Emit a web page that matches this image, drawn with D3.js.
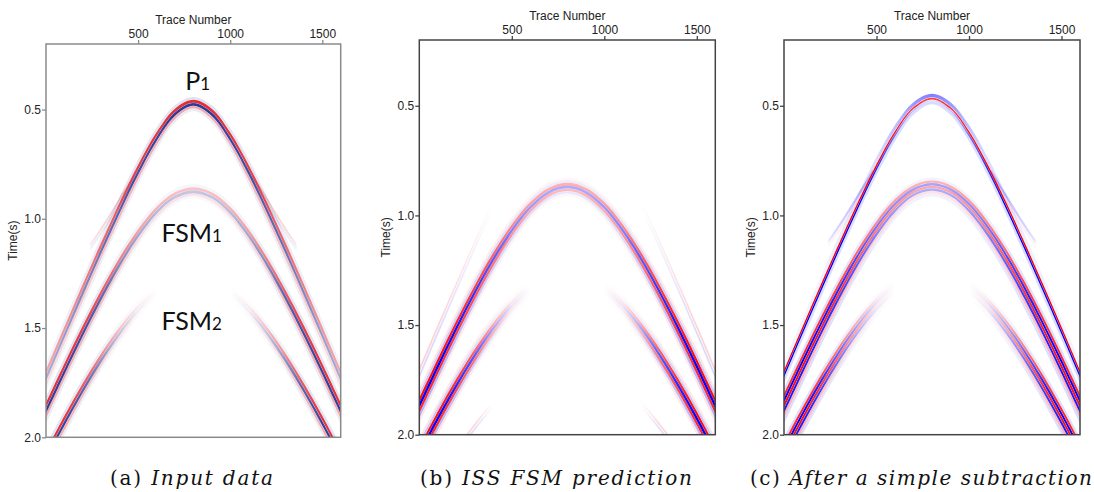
<!DOCTYPE html>
<html>
<head>
<meta charset="utf-8">
<script src="https://cdn.jsdelivr.net/npm/d3@7"></script>
<style>
  body { margin: 0; background: #fff; }
  svg { display: block; }
</style>
</head>
<body>
<svg id="fig" width="1094" height="492"></svg>
<script>
// ---- Picked traveltimes (s) of each event along the shot gather ----
const traces = [0, 100, 200, 300, 400, 500, 600, 700, 800, 900, 1000, 1100, 1200, 1300, 1400, 1500, 1600];
const timesP1   = [1.720, 1.522, 1.327, 1.136, 0.951, 0.778, 0.626, 0.514, 0.470, 0.514, 0.626, 0.778, 0.951, 1.136, 1.327, 1.522, 1.720];
const timesFSM1 = [1.869, 1.689, 1.515, 1.351, 1.200, 1.069, 0.963, 0.894, 0.870, 0.894, 0.963, 1.069, 1.200, 1.351, 1.515, 1.689, 1.869];
const timesFSM2 = [2.085, 1.926, 1.776, 1.638, 1.516, 1.413, 1.336, 1.287, 1.270, 1.287, 1.336, 1.413, 1.516, 1.638, 1.776, 1.926, 2.085];
const timesFSM3 = [2.351, 2.210, 2.080, 1.964, 1.864, 1.782, 1.721, 1.683, 1.670, 1.683, 1.721, 1.782, 1.864, 1.964, 2.080, 2.210, 2.351];
// weak flat event branching off the primary on both flanks
const ghostLeftTraces  = [240, 320, 400, 480];
const ghostLeftTimes   = [1.12, 1.02, 0.91, 0.80];
const ghostRightTraces = [1120, 1200, 1280, 1360];
const ghostRightTimes  = [0.80, 0.91, 1.02, 1.12];

// amplitude envelopes are sampled at these distances (in traces) from the apex trace
const apexTrace = 800;
const envOffsets = [0, 100, 200, 300, 400, 500, 600, 700, 800];

// axes
const traceDomain = [0, 1600];
const timeDomain = [0.2, 2.0];
const xTicks = [500, 1000, 1500];
const yTicks = [0.5, 1.0, 1.5, 2.0];
const xTitle = "Trace Number";
const yTitle = "Time(s)";

// ---- wavelet lobes at the apex: time shift (s), signed amplitude, thickness (s) ----
const lobesInput = [
  { dt: -0.022, a: -0.15, h: 0.012 },
  { dt: -0.008, a:  0.95, h: 0.013 },
  { dt:  0.006, a: -1.00, h: 0.013 },
  { dt:  0.019, a:  0.40, h: 0.011 },
  { dt:  0.031, a: -0.10, h: 0.012 }
];
const lobesPred = [
  { dt: -0.036, a:  0.10, h: 0.012 },
  { dt: -0.025, a: -0.22, h: 0.010 },
  { dt: -0.013, a:  0.95, h: 0.012 },
  { dt:  0.000, a: -1.00, h: 0.013 },
  { dt:  0.013, a:  0.85, h: 0.012 },
  { dt:  0.025, a: -0.30, h: 0.011 },
  { dt:  0.037, a:  0.10, h: 0.012 }
];
const lobesLeak = [
  { dt: -0.007, a:  0.60, h: 0.010 },
  { dt:  0.007, a: -0.50, h: 0.010 }
];
const lobesResP1 = [
  { dt: -0.017, a: -0.50, h: 0.016, env: [1, 0.8, 0.5, 0.3, 0.2, 0.15, 0.12, 0.1, 0.1] },
  { dt: -0.003, a:  1.00, h: 0.008, env: [0.75, 0.8, 0.9, 1, 1, 1, 1, 1, 1] },
  { dt:  0.006, a: -1.00, h: 0.008, env: [0.1, 0.25, 0.55, 0.85, 1, 1, 1, 1, 1] },
  { dt:  0.017, a: -0.14, h: 0.012 }
];
const lobesResFSM = [
  { dt: -0.036, a: -0.14, h: 0.012 },
  { dt: -0.024, a:  0.85, h: 0.011 },
  { dt: -0.012, a: -1.00, h: 0.011 },
  { dt:  0.000, a:  0.95, h: 0.011 },
  { dt:  0.012, a: -0.90, h: 0.011 },
  { dt:  0.024, a:  0.30, h: 0.012 },
  { dt:  0.037, a: -0.14, h: 0.013 }
];
const lobesGhost = [
  { dt:  0.000, a:  0.25, h: 0.010 },
  { dt:  0.012, a: -0.15, h: 0.010 }
];
const lobesGhostRes = [
  { dt:  0.000, a: -0.25, h: 0.012 },
  { dt:  0.014, a:  0.08, h: 0.010 }
];

// ---- amplitude envelopes vs. offset ----
const envA_P1    = [1, 1, 0.95, 0.9, 0.8, 0.7, 0.6, 0.5, 0.42];
const envA_FSM1  = [0.28, 0.3, 0.35, 0.45, 0.6, 0.78, 0.9, 0.95, 1];
const envA_FSM2  = [0, 0, 0, 0.08, 0.3, 0.55, 0.8, 0.95, 1];
const envGhost   = [0, 0, 0, 0.8, 1, 0.7, 0.2, 0, 0];
const envB_FSM1  = [0.32, 0.34, 0.4, 0.5, 0.65, 0.8, 0.92, 1, 1];
const envB_FSM2  = [0, 0, 0, 0.1, 0.35, 0.65, 0.85, 1, 1];
const envB_FSM3  = [0, 0, 0, 0, 0, 0.25, 0.3, 0.3, 0.3];
const envB_leak  = [0, 0, 0, 0, 0, 0.1, 0.2, 0.28, 0.3];
const envC_P1    = [1, 1, 1, 1, 1, 1, 1, 1, 1];
const envC_FSM1  = [0.35, 0.38, 0.45, 0.55, 0.7, 0.85, 0.95, 1, 1];
const envC_FSM2  = [0, 0, 0, 0.1, 0.35, 0.6, 0.85, 1, 1];

const panels = [
  {
    key: "a", left: 46, right: 340.7, top: 44, bottom: 437.3,
    frame: "#8a8a8a", red: "#e3212b", blue: "#2b3a9c", blur: 0.6,
    caption: ["(a) ", "Input data"], captionX: 191.5, captionW: 163,
    events: [
      { tr: ghostLeftTraces,  t: ghostLeftTimes,  env: envGhost, lobes: lobesGhost },
      { tr: ghostRightTraces, t: ghostRightTimes, env: envGhost, lobes: lobesGhost },
      { tr: traces, t: timesP1,   env: envA_P1,   lobes: lobesInput },
      { tr: traces, t: timesFSM1, env: envA_FSM1, lobes: lobesInput },
      { tr: traces, t: timesFSM2, env: envA_FSM2, lobes: lobesInput }
    ],
    labels: [
      { main: "P",   sub: "1", trace: 823, time: 0.41 },
      { main: "FSM", sub: "1", trace: 791, time: 1.106 },
      { main: "FSM", sub: "2", trace: 791, time: 1.509 }
    ]
  },
  {
    key: "b", left: 419.3, right: 715.3, top: 40, bottom: 434.7,
    frame: "#444", red: "#ff0000", blue: "#0000ff", blur: 0,
    caption: ["(b) ", "ISS FSM prediction"], captionX: 556, captionW: 272,
    events: [
      { tr: traces, t: timesP1,   env: envB_leak, lobes: lobesLeak },
      { tr: traces, t: timesFSM1, env: envB_FSM1, lobes: lobesPred },
      { tr: traces, t: timesFSM2, env: envB_FSM2, lobes: lobesPred },
      { tr: traces, t: timesFSM3, env: envB_FSM3, lobes: lobesLeak }
    ],
    labels: []
  },
  {
    key: "c", left: 784, right: 1080, top: 40, bottom: 434.7,
    frame: "#444", red: "#ff0000", blue: "#0000ff", blur: 0,
    caption: ["(c) ", "After a simple subtraction"], captionX: 921, captionW: 342,
    events: [
      { tr: ghostLeftTraces,  t: ghostLeftTimes,  env: envGhost, lobes: lobesGhostRes },
      { tr: ghostRightTraces, t: ghostRightTimes, env: envGhost, lobes: lobesGhostRes },
      { tr: traces, t: timesP1,   env: envC_P1,   lobes: lobesResP1 },
      { tr: traces, t: timesFSM1, env: envC_FSM1, lobes: lobesResFSM },
      { tr: traces, t: timesFSM2, env: envC_FSM2, lobes: lobesResFSM }
    ],
    labels: []
  }
];

const svg = d3.select("#fig");
const defs = svg.append("defs");
let gradCount = 0;
const axisFont = "'Liberation Sans', Arial, sans-serif";
const stretchGain = 0.75;   // how strongly lobes widen in time on the steep flanks

function envelopeStops(env, amp) {
  const stops = [];
  envOffsets.forEach((o, i) => stops.push({ tr: apexTrace - o, v: env[i] }));
  envOffsets.forEach((o, i) => { if (o > 0) stops.push({ tr: apexTrace + o, v: env[i] }); });
  stops.sort((p, q) => p.tr - q.tr);
  return stops.map(s => ({ offset: (s.tr - traceDomain[0]) / (traceDomain[1] - traceDomain[0]),
                           opacity: Math.min(1, Math.abs(amp) * s.v) }));
}

panels.forEach(p => {
  const x = d3.scaleLinear().domain(traceDomain).range([p.left, p.right]);
  const y = d3.scaleLinear().domain(timeDomain).range([p.top, p.bottom]);
  const g = svg.append("g").attr("class", "panel-" + p.key);

  const clipId = "clip-" + p.key;
  defs.append("clipPath").attr("id", clipId)
    .append("rect")
    .attr("x", p.left).attr("y", p.top)
    .attr("width", p.right - p.left).attr("height", p.bottom - p.top);

  const marks = g.append("g").attr("clip-path", `url(#${clipId})`).append("g");
  if (p.blur > 0) {
    const fid = "soft-" + p.key;
    defs.append("filter").attr("id", fid)
      .attr("x", "-5%").attr("y", "-5%").attr("width", "110%").attr("height", "110%")
      .append("feGaussianBlur").attr("stdDeviation", p.blur);
    marks.attr("filter", `url(#${fid})`);
  }

  // each event is painted as a stack of wavelet lobes following its traveltime curve;
  // on the steep flanks the lobes widen in time so they keep some thickness normal to the curve
  p.events.forEach(ev => {
    const n = ev.tr.length;
    const pts = ev.tr.map((tr, i) => {
      const j = Math.max(0, i - 1), k = Math.min(n - 1, i + 1);
      const slope = stretchGain * (y(ev.t[k]) - y(ev.t[j])) / (x(ev.tr[k]) - x(ev.tr[j]));
      return { tr, t: ev.t[i], s: Math.sqrt(1 + slope * slope) };
    });
    ev.lobes.forEach(lb => {
      const id = "amp" + (gradCount++);
      const grad = defs.append("linearGradient").attr("id", id)
        .attr("gradientUnits", "userSpaceOnUse")
        .attr("x1", x(traceDomain[0])).attr("x2", x(traceDomain[1]))
        .attr("y1", 0).attr("y2", 0);
      grad.selectAll("stop").data(envelopeStops(lb.env || ev.env, lb.a)).join("stop")
        .attr("offset", d => d.offset)
        .attr("stop-color", lb.a > 0 ? p.red : p.blue)
        .attr("stop-opacity", d => d.opacity);
      const area = d3.area()
        .x(d => x(d.tr))
        .y0(d => y(d.t + d.s * (lb.dt - lb.h / 2)))
        .y1(d => y(d.t + d.s * (lb.dt + lb.h / 2)))
        .curve(d3.curveCatmullRom);
      marks.append("path").datum(pts).attr("d", area).attr("fill", `url(#${id})`);
    });
  });

  // frame
  g.append("rect")
    .attr("x", p.left).attr("y", p.top)
    .attr("width", p.right - p.left).attr("height", p.bottom - p.top)
    .attr("fill", "none").attr("stroke", p.frame).attr("stroke-width", 1.5);

  // axes
  const xAxis = g.append("g").attr("transform", `translate(0,${p.top})`)
    .call(d3.axisTop(x).tickValues(xTicks).tickSize(4).tickPadding(2).tickFormat(d3.format("d")));
  const yAxis = g.append("g").attr("transform", `translate(${p.left},0)`)
    .call(d3.axisLeft(y).tickValues(yTicks).tickSize(4).tickPadding(1).tickFormat(d3.format(".1f")));
  [xAxis, yAxis].forEach(ax => {
    ax.select(".domain").remove();
    ax.selectAll(".tick line").attr("stroke", p.frame).attr("stroke-width", 1.3);
    ax.selectAll(".tick text").attr("font-family", axisFont).attr("font-size", 12).attr("fill", "#222");
  });

  g.append("text")
    .attr("x", (p.left + p.right) / 2).attr("y", p.top - 20)
    .attr("text-anchor", "middle")
    .attr("font-family", axisFont).attr("font-size", 12).attr("fill", "#222")
    .text(xTitle);
  g.append("text")
    .attr("transform", `translate(${p.left - 29},${(p.top + p.bottom) / 2}) rotate(-90)`)
    .attr("text-anchor", "middle")
    .attr("font-family", axisFont).attr("font-size", 12).attr("fill", "#222")
    .text(yTitle);

  // event annotations
  p.labels.forEach(l => {
    const t = g.append("text")
      .attr("x", x(l.trace)).attr("y", y(l.time))
      .attr("text-anchor", "middle")
      .attr("font-family", "Lato, 'Open Sans', sans-serif").attr("font-size", 25).attr("fill", "#111");
    t.append("tspan").text(l.main);
    t.append("tspan").attr("font-size", 17).text(l.sub);
  });

  // caption
  const cap = svg.append("text")
    .attr("x", p.captionX).attr("y", 485)
    .attr("text-anchor", "middle")
    .attr("font-family", "'DejaVu Serif', 'Liberation Serif', serif").attr("font-size", 20).attr("fill", "#111")
    .attr("textLength", p.captionW).attr("lengthAdjust", "spacing");
  cap.append("tspan").text(p.caption[0]);
  cap.append("tspan").attr("font-style", "italic").text(p.caption[1]);
});
</script>
</body>
</html>
